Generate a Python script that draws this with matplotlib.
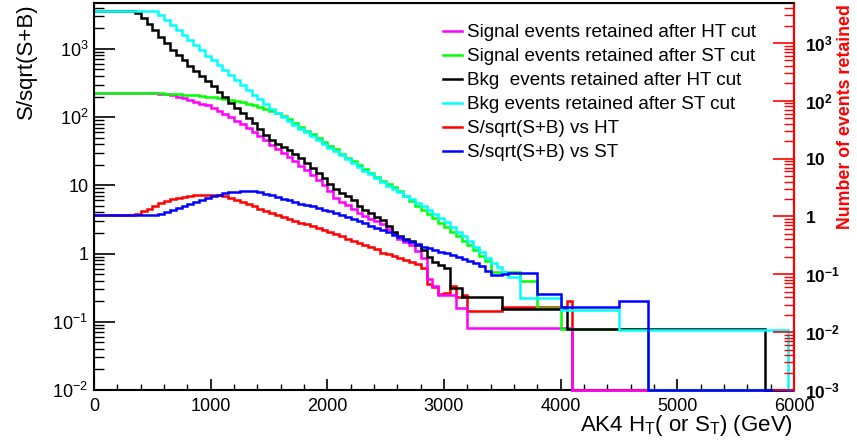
import numpy as np
import matplotlib
matplotlib.use("Agg")
import matplotlib.pyplot as plt
from matplotlib.ticker import LogLocator, FuncFormatter, MultipleLocator, NullFormatter

plt.rcParams['font.family'] = ['Liberation Sans', 'DejaVu Sans']
plt.rcParams['mathtext.fontset'] = 'custom'
plt.rcParams['mathtext.rm'] = 'Liberation Sans'
plt.rcParams['mathtext.it'] = 'Liberation Sans:italic'
plt.rcParams['mathtext.bf'] = 'Liberation Sans:bold'

# 50 GeV bins from 0 to 6000 GeV
edges = np.arange(0, 6001, 50)

# Signal events retained after HT cut (magenta)
sig_ht = ([225] * 10 +
          [224, 221, 216, 209, 200, 191, 178, 166, 155, 148,
           135, 123, 112, 100, 89.1, 79.4, 69.2, 60.3, 52.5, 45.7,
           38.9, 33.9, 29.5, 25.7, 22.4, 19.5, 16.6, 14.1, 12.0, 10.0,
           8.13, 6.61, 5.75, 5.13, 4.57, 3.98, 3.55, 3.24, 2.95, 2.69,
           2.29, 1.95, 1.66, 1.48, 1.32, 1.10, 0.871, 0.417, 0.339] +
          [0.246] * 3 + [0.158] * 2 + [0.081] * 18 + [0] * 38)

# Signal events retained after ST cut (green)
sig_st = ([225] * 10 +
          [225, 224, 221, 219, 216, 214, 211, 209, 207, 200,
           195, 191, 186, 178, 172, 166, 158, 148, 140, 132,
           123, 115, 105, 93.3, 81.3, 72.4, 63.1, 55.6, 49.0, 43.2,
           37.6, 33.5, 29.2, 25.4, 22.6, 19.7, 17.2, 15.3, 13.3, 11.6,
           10.4, 9.44, 8.32, 6.92, 5.89, 5.01, 4.37, 3.80, 3.31, 2.82,
           2.45, 2.09, 1.78, 1.55, 1.32, 1.12, 0.933, 0.776] +
          [0.535] * 5 + [0.395] * 3 + [0.158] * 4 + [0.078] * 15 + [0] * 25)

# Bkg events retained after HT cut (black)
bkg_ht = ([3550] * 7 +
          [3310, 2820, 2290, 1860, 1510, 1200, 977, 813, 676, 562,
           468, 398, 339, 282, 234, 195, 162, 135, 115, 97.7,
           81.3, 67.6, 55.0, 45.7, 40.7, 36.3, 32.4, 28.8, 25.1, 21.4,
           18.2, 15.1, 12.6, 10.5, 8.91, 7.76, 6.92, 6.17, 5.01, 4.37,
           3.98, 3.47, 3.09, 2.51, 2.09, 1.82, 1.66, 1.51, 1.32, 1.12,
           0.891, 0.759, 0.676, 0.617] +
          [0.311] * 2 + [0.23] * 7 + [0.153] * 11 + [0.078] * 34 + [0] * 5)

# Bkg events retained after ST cut (cyan)
bkg_st = ([3550] * 11 +
          [3160, 2690, 2240, 1905, 1585, 1350, 1122, 955, 794, 676,
           575, 490, 417, 355, 295, 251, 214, 182, 155, 132,
           115, 100, 89.1, 77.6, 67.6, 60.3, 52.5, 45.7, 40.7, 35.5,
           31.6, 27.5, 24.0, 21.4, 18.6, 16.2, 14.5, 12.6, 11.0, 9.77,
           8.91, 7.94, 7.08, 6.31, 5.50, 4.90, 4.37, 3.80, 3.31, 2.88,
           2.45, 2.09, 1.78, 1.51, 1.26, 1.05, 0.871, 0.724, 0.631, 0.537,
           0.447, 0.447] +
          [0.222] * 7 + [0.148] * 10 + [0.0755] * 29 + [0])

# S/sqrt(S+B) vs HT (red)
sn_ht = ([3.65] * 7 +
         [3.80, 4.17, 4.57, 5.01, 5.50, 5.89, 6.31, 6.61, 6.84, 7.00,
          7.16, 7.24, 7.33, 7.33, 7.16, 6.92, 6.46, 6.03, 5.62, 5.25,
          4.90, 4.57, 4.27, 3.98, 3.72, 3.47, 3.24, 3.02, 2.85, 2.69,
          2.51, 2.34, 2.21, 2.09, 1.95, 1.82, 1.66, 1.55, 1.45, 1.35,
          1.26, 1.15, 1.02, 0.977, 0.912, 0.851, 0.794, 0.741, 0.708, 0.617,
          0.363, 0.324, 0.257, 0.263, 0.331, 0.229, 0.251] +
         [0.145] * 6 + [0.167] * 11 + [0.203] + [0] * 38)

# S/sqrt(S+B) vs ST (blue)
sn_st = ([3.65] * 11 +
         [3.85, 4.07, 4.37, 4.68, 5.01, 5.37, 5.75, 6.17, 6.61, 7.00,
          7.33, 7.59, 7.85, 8.04, 8.22, 8.22, 8.13, 7.85, 7.50, 7.16,
          6.76, 6.31, 6.03, 5.69, 5.37, 5.13, 4.90, 4.68, 4.42, 4.17,
          3.94, 3.72, 3.47, 3.24, 3.02, 2.82, 2.57, 2.40, 2.21, 2.04,
          1.88, 1.74, 1.60, 1.48, 1.36, 1.26, 1.20, 1.14, 1.07, 1.01,
          0.955, 0.891, 0.832, 0.776, 0.724, 0.646, 0.562, 0.479, 0.490, 0.501] +
         [0.513] * 5 + [0.255] * 4 + [0.166] * 10 + [0.20] * 5 + [0] * 25)

series = [
    (sn_ht, '#ff0000', 'S/sqrt(S+B) vs HT'),
    (sig_ht, '#ff00ff', 'Signal events retained after HT cut'),
    (sig_st, '#00ff00', 'Signal events retained after ST cut'),
    (bkg_ht, '#000000', 'Bkg  events retained after HT cut'),
    (bkg_st, '#00ffff', 'Bkg events retained after ST cut'),
    (sn_st, '#0000ff', 'S/sqrt(S+B) vs ST'),
]
legend_order = [1, 2, 3, 4, 0, 5]

ymin, ymax = 1e-2, 4700

fig = plt.figure(figsize=(8.57, 4.46), dpi=100)
ax = fig.add_axes([94 / 857, 1 - 390 / 446, 700 / 857, 387 / 446])

handles = []
for vals, col, lab in series:
    v = np.asarray(vals, dtype=float)
    v = np.where(v > 0, v, ymin)  # empty bins sit on the floor like ROOT
    h = ax.stairs(v, edges, color=col, lw=1.8, label=lab, baseline=None,
                  clip_on=False, zorder=3)
    handles.append(h)

ax.set_yscale('log')
ax.set_xlim(0, 6000)
ax.set_ylim(ymin, ymax)


def left_fmt(v, pos):
    e = int(round(np.log10(v)))
    if e == 0:
        return '1'
    if e == 1:
        return '10'
    return r'$10^{%d}$' % e


def right_fmt(v, pos):
    e = int(round(np.log10(v)))
    if e == 0:
        return r'$\mathbf{1}$'
    if e == 1:
        return r'$\mathbf{10}$'
    return r'$\mathbf{10^{%d}}$' % e


ax.yaxis.set_major_locator(LogLocator(base=10, numticks=20))
ax.yaxis.set_minor_locator(LogLocator(base=10, subs=np.arange(2, 10), numticks=20))
ax.yaxis.set_major_formatter(FuncFormatter(left_fmt))
ax.yaxis.set_minor_formatter(NullFormatter())
ax.xaxis.set_major_locator(MultipleLocator(1000))
ax.xaxis.set_minor_locator(MultipleLocator(200))

ax.tick_params(axis='y', which='major', direction='in', length=15, width=1.2, labelsize=13, pad=4)
ax.tick_params(axis='y', which='minor', direction='in', length=7.5, width=1.0)
ax.tick_params(axis='x', which='major', direction='in', length=8, width=1.2, labelsize=13, pad=6)
ax.tick_params(axis='x', which='minor', direction='in', length=4.5, width=1.0)
for s in ax.spines.values():
    s.set_linewidth(1.5)

ax.set_ylabel('S/sqrt(S+B)', fontsize=16, loc='top', labelpad=11)

# right-hand axis for the number of events
ax2 = ax.twinx()
ax2.set_yscale('log')
ax2.set_ylim(1e-3, 4900)
ax2.yaxis.set_major_locator(LogLocator(base=10, numticks=20))
ax2.yaxis.set_minor_locator(LogLocator(base=10, subs=np.arange(2, 10), numticks=20))
ax2.yaxis.set_major_formatter(FuncFormatter(right_fmt))
ax2.yaxis.set_minor_formatter(NullFormatter())
ax2.tick_params(axis='y', which='major', direction='in', length=15, width=1.2,
                color='red', labelsize=12.5, pad=8)
ax2.tick_params(axis='y', which='minor', direction='in', length=7.5, width=1.0, color='red')
ax2.spines['right'].set_color('red')
ax2.spines['right'].set_linewidth(1.5)
ax2.spines['bottom'].set_visible(False)

fig.text(845 / 857, 1 - 4 / 446, 'Number of events retained', color='red',
         fontsize=12.8, fontweight='bold', rotation=90, ha='center', va='top')

fig.text(793 / 857, 1 - 431 / 446, r'AK4 H$_{\mathrm{T}}$( or S$_{\mathrm{T}}$) (GeV)',
         ha='right', va='baseline', fontsize=16)

ax.legend([handles[i] for i in legend_order], [series[i][2] for i in legend_order],
          loc='upper left', bbox_to_anchor=(443 / 857, 1 - 24 / 446),
          bbox_transform=fig.transFigure, frameon=False, fontsize=13.6,
          handlelength=1.0, handletextpad=0.28, labelspacing=0.36, borderpad=0,
          borderaxespad=0)

fig.savefig('out.png', dpi=100)
